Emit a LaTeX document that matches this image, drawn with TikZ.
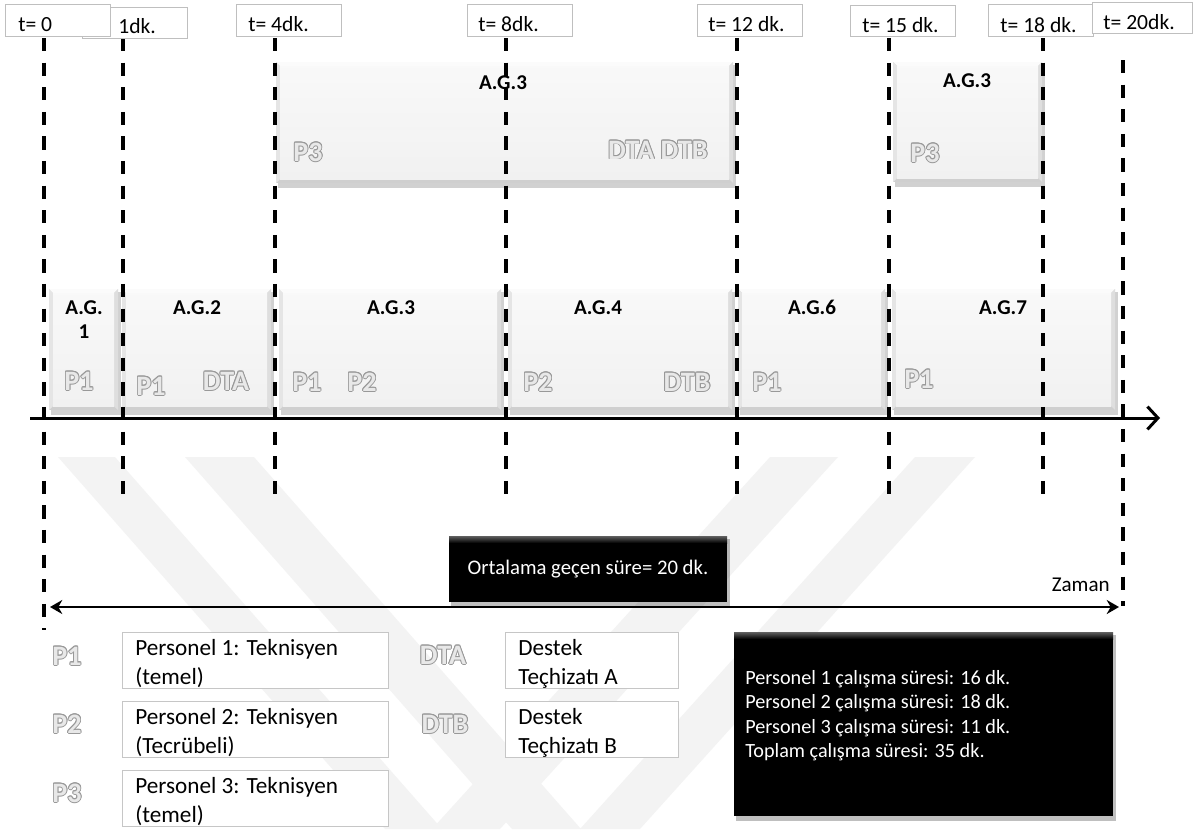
\documentclass[tikz,border=0pt]{standalone}
\usepackage{fontspec}
\setmainfont{Carlito}
\usetikzlibrary{arrows.meta,fit}

\definecolor{wm}{HTML}{F3F3F3}
\definecolor{olline}{HTML}{999999}
\definecolor{olfill}{HTML}{E8E8E8}

% hollow grey lettering: dark copies around a light core
\newcommand{\ghostlbl}[1]{\leavevmode
  \foreach \ang in {0,30,...,330}{%
    \pgfmathsetlengthmacro\odx{0.5pt*cos(\ang)}%
    \pgfmathsetlengthmacro\ody{0.5pt*sin(\ang)}%
    \rlap{\hspace*{\odx}\raisebox{\ody}{\textcolor{olline}{#1}}}}%
  \textcolor{olfill}{#1}}

% bevelled grey activity block: name, x1, y1, x2, y2
\newcommand{\agbox}[5]{%
  \fill[black, opacity=0.18] (#2+2,#3+3) rectangle (#4+3,#5+5);
  \fill[gray!38] (#2,#3) rectangle (#4,#5);
  \fill[gray!3] (#2,#3) -- (#4,#3) -- (#4-4,#3+4) -- (#2+4,#3+4) -- cycle;
  \fill[gray!20] (#2,#3) -- (#2+4,#3+4) -- (#2+4,#5-4) -- (#2,#5) -- cycle;
  \fill[gray!26] (#4,#3) -- (#4-4,#3+4) -- (#4-4,#5-4) -- (#4,#5) -- cycle;
  \shade[top color=gray!5, bottom color=gray!11] (#2+4,#3+4) rectangle (#4-4,#5-4);
  \node[fit={(#2,#3) (#4,#5)}, inner sep=0] (#1) {};
}

% black summary panel: name, x1, y1, x2, y2
\newcommand{\blkbox}[5]{%
  \fill[black, opacity=0.25] (#2+2,#3+3) rectangle (#4+3,#5+5);
  \fill[black] (#2,#3) rectangle (#4,#5);
  \shade[top color=gray!75!black, bottom color=black] (#2,#3) rectangle (#4,#3+7);
  \node[fit={(#2,#3) (#4,#5)}, inner sep=0] (#1) {};
}

\begin{document}
\begin{tikzpicture}[x=0.02cm, y=-0.02cm,
  tbox/.style={draw=gray!50, fill=white, line width=0.8pt, anchor=north west, inner sep=0},
  ttxt/.style={anchor=base west, inner sep=0, font=\fontsize{12.3}{14}\selectfont},
  tline/.style={line width=2.3pt, dash pattern=on 7.5pt off 6.5pt},
  agl/.style={inner sep=0, anchor=base, font=\fontsize{12}{13.6}\selectfont\bfseries},
  ghost/.style={inner sep=0, font=\fontsize{16}{18}\selectfont\bfseries},
  lbox/.style={draw=gray!45, fill=white, line width=0.8pt, anchor=north west, inner sep=0},
  ltxt/.style={anchor=north west, inner sep=0, align=left, font=\fontsize{13.2}{16.4}\selectfont},
  band/.style={fill=wm}]

\useasboundingbox (0,0) rectangle (1193,829);
\fill[white] (0,0) rectangle (1193,829);

% faint emblem in the background
\begin{scope}
  \clip (0,455) rectangle (1193,829);
  \fill[band] (58,457) -- (115,457) -- (442,829) -- (385,829) -- cycle;
  \fill[band] (185,457) -- (254,457) -- (581,829) -- (512,829) -- cycle;
  \fill[band] (770,457) -- (838,457) -- (500,829) -- (432,829) -- cycle;
  \fill[band] (915,457) -- (975,457) -- (640,829) -- (580,829) -- cycle;
\end{scope}

% activity blocks
\agbox{ua}{276}{62}{733}{183}
\agbox{ub}{893}{62}{1042}{182}
\agbox{b1}{49}{289}{118}{410}
\agbox{b2}{122}{289}{271}{410}
\agbox{b3}{279}{289}{501}{410}
\agbox{b4}{508}{289}{732}{410}
\agbox{b6}{738}{289}{885}{410}
\agbox{b7}{892}{289}{1115}{410}

% block captions
\node[agl] (ua-t) at (503,89) {A.G.3};
\node[ghost, anchor=west] (ua-p) at (293,152) {\ghostlbl{P3}};
\node[ghost, anchor=east] (ua-d) at (708,150) {\ghostlbl{DTA DTB}};
\node[agl] (ub-t) at (967,87) {A.G.3};
\node[ghost, anchor=west] (ub-p) at (910,153) {\ghostlbl{P3}};

\node[agl] (b1-t) at (84,314) {A.G.};
\node[agl] (b1-n) at (84,338) {1};
\node[ghost] (b1-p) at (79,381) {\ghostlbl{P1}};
\node[agl] (b2-t) at (197,314) {A.G.2};
\node[ghost] (b2-p) at (151,386) {\ghostlbl{P1}};
\node[ghost] (b2-d) at (226,381) {\ghostlbl{DTA}};
\node[agl] (b3-t) at (391,314) {A.G.3};
\node[ghost] (b3-p) at (307,382) {\ghostlbl{P1}};
\node[ghost] (b3-q) at (362,382) {\ghostlbl{P2}};
\node[agl] (b4-t) at (598,314) {A.G.4};
\node[ghost] (b4-p) at (538,382) {\ghostlbl{P2}};
\node[ghost] (b4-d) at (687,382) {\ghostlbl{DTB}};
\node[agl] (b6-t) at (812,314) {A.G.6};
\node[ghost] (b6-p) at (767,382) {\ghostlbl{P1}};
\node[agl] (b7-t) at (1003,314) {A.G.7};
\node[ghost] (b7-p) at (919,379) {\ghostlbl{P1}};

% black panels
\blkbox{avg}{449}{536}{727}{602}
\node[inner sep=0, text=white, font=\fontsize{11.8}{14}\selectfont] (avg-t) at (588,569) {Ortalama geçen süre= 20 dk.};
\blkbox{sum}{734}{632}{1113}{816}
\node[anchor=north west, inner sep=0, align=left, text=white, font=\fontsize{11.5}{13.9}\selectfont] (sum-t) at (745,670)
  {Personel 1 çalışma süresi: 16 dk.\\Personel 2 çalışma süresi: 18 dk.\\Personel 3 çalışma süresi: 11 dk.\\Toplam çalışma süresi: 35 dk.};

% legend
\node[ghost] (k1) at (67,656) {\ghostlbl{P1}};
\node[ghost] (k2) at (67,724) {\ghostlbl{P2}};
\node[ghost] (k3) at (67,793) {\ghostlbl{P3}};
\node[ghost] (k4) at (443,655) {\ghostlbl{DTA}};
\node[ghost] (k5) at (445,724) {\ghostlbl{DTB}};
\node[lbox, minimum width=5.32cm, minimum height=1.12cm] (lb1) at (122,632) {};
\node[lbox, minimum width=5.32cm, minimum height=1.12cm] (lb2) at (122,701) {};
\node[lbox, minimum width=5.32cm, minimum height=1.12cm] (lb3) at (122,770) {};
\node[lbox, minimum width=3.46cm, minimum height=1.12cm] (db1) at (505,632) {};
\node[lbox, minimum width=3.46cm, minimum height=1.12cm] (db2) at (505,701) {};
\node[ltxt] (lt1) at (135,639) {Personel 1: Teknisyen\\(temel)};
\node[ltxt] (lt2) at (135,708) {Personel 2: Teknisyen\\(Tecrübeli)};
\node[ltxt] (lt3) at (135,777) {Personel 3: Teknisyen\\(temel)};
\node[ltxt] (dt1) at (518,639) {Destek\\Teçhizatı A};
\node[ltxt] (dt2) at (518,708) {Destek\\Teçhizatı B};

% time marks
\coordinate (m0t) at (44,38);    \coordinate (m0b) at (44,630);
\coordinate (m1t) at (123,38);   \coordinate (m1b) at (123,502);
\coordinate (m4t) at (275,38);   \coordinate (m4b) at (275,502);
\coordinate (m8t) at (506,38);   \coordinate (m8b) at (506,502);
\coordinate (m12t) at (737,38);  \coordinate (m12b) at (737,502);
\coordinate (m15t) at (889,38);  \coordinate (m15b) at (889,502);
\coordinate (m18t) at (1043,38); \coordinate (m18b) at (1043,502);
\coordinate (m20t) at (1123,60); \coordinate (m20b) at (1123,606);
\foreach \m in {0,1,4,8,12,15,18,20}
  \draw[tline] (m\m t) -- (m\m b);

% time axis
\coordinate (axL) at (30,418);
\coordinate (axR) at (1160,418);
\draw[line width=1.7pt, -{Straight Barb[length=6pt,width=13pt,line width=1.7pt]}] (axL) -- (axR);

% total duration span
\coordinate (zL) at (50,607);
\coordinate (zR) at (1119,607);
\draw[line width=1.6pt, {Stealth[length=7pt,width=8pt]}-{Stealth[length=7pt,width=8pt]}] (zL) -- (zR);
\node[anchor=base east, inner sep=0, font=\fontsize{12}{14}\selectfont] (zaman) at (1110,591) {Zaman};

% time labels
\node[tbox, minimum width=2.1cm, minimum height=0.62cm] (tb1) at (82,7) {};
\node[ttxt] (tt1) at (118,33) {1dk.};
\node[tbox, minimum width=2.1cm, minimum height=0.64cm] (tb0) at (5,4) {};
\node[ttxt] (tt0) at (18,31) {t= 0};
\node[tbox, minimum width=2.1cm, minimum height=0.64cm] (tb4) at (236,4) {};
\node[ttxt] (tt4) at (248,31) {t= 4dk.};
\node[tbox, minimum width=2.1cm, minimum height=0.64cm] (tb8) at (467,4) {};
\node[ttxt] (tt8) at (478,31) {t= 8dk.};
\node[tbox, minimum width=2.1cm, minimum height=0.64cm] (tb12) at (697,4) {};
\node[ttxt] (tt12) at (708,31) {t= 12 dk.};
\node[tbox, minimum width=2.1cm, minimum height=0.62cm] (tb15) at (850,5) {};
\node[ttxt] (tt15) at (862,32) {t= 15 dk.};
\node[tbox, minimum width=2.1cm, minimum height=0.64cm] (tb18) at (988,4) {};
\node[ttxt] (tt18) at (1000,32) {t= 18 dk.};
\node[tbox, minimum width=2.0cm, minimum height=0.62cm] (tb20) at (1092,2) {};
\node[ttxt] (tt20) at (1103,29) {t= 20dk.};

\end{tikzpicture}
\end{document}
